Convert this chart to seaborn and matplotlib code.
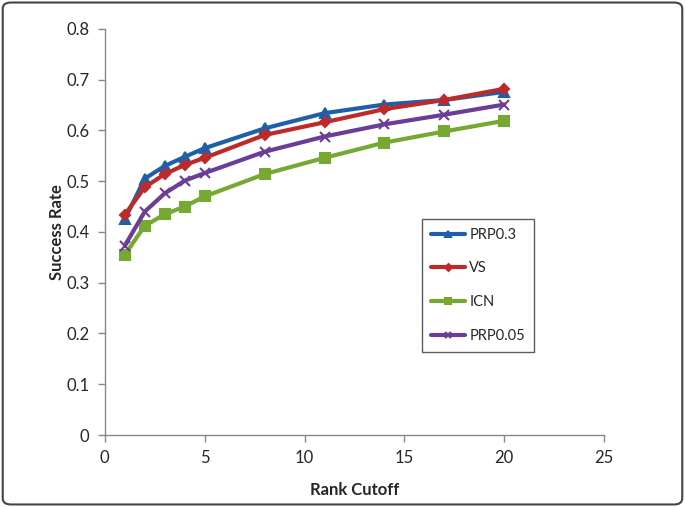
import matplotlib
matplotlib.use("Agg")
import matplotlib.pyplot as plt
from matplotlib.patches import FancyBboxPatch
import seaborn as sns
import pandas as pd

rank_cutoff = [1, 2, 3, 4, 5, 8, 11, 14, 17, 20]
prp03 = [0.425, 0.505, 0.530, 0.548, 0.565, 0.604, 0.634, 0.651, 0.660, 0.676]
vs = [0.434, 0.488, 0.514, 0.532, 0.546, 0.591, 0.616, 0.642, 0.660, 0.682]
icn = [0.355, 0.412, 0.435, 0.450, 0.470, 0.514, 0.546, 0.576, 0.598, 0.619]
prp005 = [0.373, 0.440, 0.476, 0.501, 0.516, 0.558, 0.588, 0.612, 0.631, 0.651]
series_names = ["PRP0.3", "VS", "ICN", "PRP0.05"]

sns.set_style("white")
plt.rcParams['font.family'] = ['Lato', 'DejaVu Sans']

df = pd.DataFrame({
    "Rank Cutoff": rank_cutoff * 4,
    "Success Rate": prp03 + vs + icn + prp005,
    "Series": sum([[n] * len(rank_cutoff) for n in series_names], []),
})

colors = {"PRP0.3": "#1f5fa8", "VS": "#be2a2a", "ICN": "#76a832", "PRP0.05": "#6a3d96"}
markers = {"PRP0.3": "^", "VS": "D", "ICN": "s", "PRP0.05": "x"}
msizes = {"PRP0.3": 7, "VS": 5, "ICN": 7, "PRP0.05": 7}

fig = plt.figure(figsize=(6.85, 5.07), dpi=100)
ax = fig.add_axes([0.153, 0.142, 0.729, 0.801])

for name in series_names:
    sub = df[df["Series"] == name]
    sns.lineplot(data=sub, x="Rank Cutoff", y="Success Rate", ax=ax,
                 color=colors[name], marker=markers[name], markersize=msizes[name],
                 markeredgecolor=colors[name], markeredgewidth=1.5,
                 linewidth=3, label=name)

ax.set_xlim(0, 25)
ax.set_ylim(0, 0.8)
ax.set_xticks([0, 5, 10, 15, 20, 25])
ax.set_yticks([0, 0.1, 0.2, 0.3, 0.4, 0.5, 0.6, 0.7, 0.8])
ax.set_yticklabels(["0", "0.1", "0.2", "0.3", "0.4", "0.5", "0.6", "0.7", "0.8"])
ax.tick_params(axis='both', which='both', direction='out', length=5, width=1,
               color="#888888", labelsize=12, pad=6, left=True, bottom=True)
ax.set_xlabel("Rank Cutoff", fontsize=12, fontweight='bold', labelpad=11)
ax.set_ylabel("Success Rate", fontsize=12, fontweight='bold', labelpad=1)
sns.despine(ax=ax)
for s in ["left", "bottom"]:
    ax.spines[s].set_color("#888888")
    ax.spines[s].set_linewidth(1)

leg = ax.legend(loc="upper left", bbox_to_anchor=(0.635, 0.532), frameon=True,
                fontsize=10.5, labelspacing=1.35, handlelength=2.35,
                borderpad=0.6, handletextpad=0.3, borderaxespad=0,
                markerscale=0.7, fancybox=False)
leg.get_frame().set_edgecolor("#333333")
leg.get_frame().set_linewidth(1)

border = FancyBboxPatch((0.004, 0.005), 0.992, 0.99, boxstyle="round,pad=0,rounding_size=0.012",
                        transform=fig.transFigure, fill=False, edgecolor="#444444",
                        linewidth=1.5, figure=fig)
fig.patches.append(border)

fig.savefig("out.png", dpi=100)
